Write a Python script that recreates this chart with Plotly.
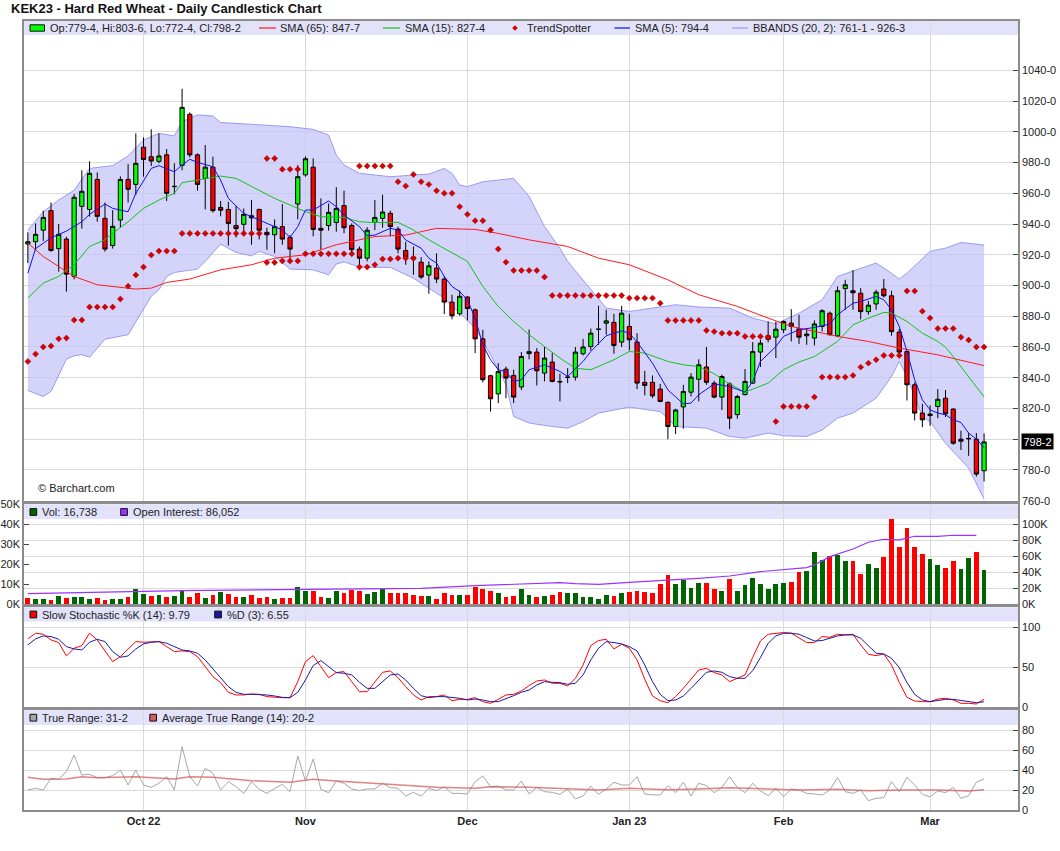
import pandas as pd
import plotly.graph_objects as go

# ---------------- categories ----------------
holidays = ['2022-11-24', '2022-12-26', '2023-01-02', '2023-01-16', '2023-02-20']
dates = [d.strftime('%Y-%m-%d') for d in
         pd.bdate_range('2022-09-12', '2023-03-10', freq='C', holidays=holidays)]
month_dates = ['2022-10-03', '2022-11-01', '2022-12-01', '2023-01-03', '2023-02-01', '2023-03-01']
month_labels = ['Oct 22', 'Nov', 'Dec', 'Jan 23', 'Feb', 'Mar']

# ---------------- price (OHLC) ----------------
opens = [927, 928.5, 936, 948.7, 924, 930.2, 906, 951.5, 949.5, 969,
         943.7, 926, 942.6, 969, 965.8, 990, 983.8, 980.8, 985, 964.3,
         978.2, 1011.4, 985, 969.7, 977, 950.8, 949.5, 939, 939.8, 945.4,
         949.5, 934.6, 933, 938.3, 931.3, 953, 972, 977, 937.2, 939,
         941, 952, 939, 923.7, 917.8, 941, 943.7, 947, 936.7, 922.8,
         918.5, 915.2, 906.8, 911.3, 904.2, 889.2, 881.6, 892.5, 884.2, 865.3,
         841.3, 829.5, 845.6, 841.5, 834, 855.7, 856.7, 843, 850.2, 837.6,
         840.2, 840.4, 855.6, 860.3, 871.4, 875.5, 876, 863.2, 873.4, 863.2,
         837, 837, 832.6, 824, 808.3, 821, 830.6, 839, 847, 836.5,
         827.4, 836, 816, 829, 836.5, 856.7, 865, 866.4, 871.2, 875.5,
         871.8, 867.3, 865.8, 873.4, 882, 867.3, 898, 896.6, 895, 883,
         888, 897.7, 893.3, 869.7, 857, 835.4, 817, 815.4, 821.3, 826.7,
         819.6, 800, 800.5, 800, 779.5]
highs = [934.6, 940.4, 948.7, 954, 940, 931.7, 959.5, 975, 980.8, 973.6,
         954, 949, 971, 979, 999, 996.4, 1001.6, 999, 988.8, 979.5,
         1028, 1012.7, 986, 991.4, 983.8, 955, 954.5, 951.7, 950.2, 955.6,
         950, 937.6, 943, 953, 932.8, 978.4, 984, 982.7, 956.7, 953.4,
         964, 961.7, 940.4, 925.4, 938, 955.6, 959, 948.7, 938.3, 928.5,
         925.4, 918.5, 915.7, 921, 906, 894, 896.8, 893, 885, 871.2,
         842, 849.5, 847.3, 845.2, 856.7, 871.4, 859.3, 860, 856, 842.6,
         846.2, 860, 865.3, 872, 886.8, 884.2, 881.6, 886.8, 881.6, 869,
         844.5, 841.5, 836, 824.6, 819.8, 835.4, 843, 852, 860, 838,
         842, 837, 829, 845.6, 863.2, 864.7, 876.6, 876.6, 877.3, 884.6,
         881, 872, 877.3, 884.6, 883, 899.4, 903.7, 910, 898.3, 890,
         897.2, 904.2, 896.6, 871.8, 857.7, 837, 823, 822, 832.6, 832,
         820.2, 805.5, 804, 804, 803.75]
lows = [914.6, 923, 929, 922, 909, 896, 904, 937, 944.8, 941.5,
        922, 924, 938, 954, 959, 970.8, 977.7, 979.5, 955, 959.3,
        975, 983.4, 961.7, 949.5, 947.4, 945, 926, 931.3, 934, 926.5,
        930, 923.3, 921, 926.5, 914.6, 943, 970.8, 932, 923.3, 935.7,
        935, 934, 921, 910, 915.7, 936, 937.6, 932, 921, 913.5,
        907, 904.2, 894.6, 901.6, 881.4, 878, 880.3, 877.3, 856, 837,
        818, 823.5, 826.7, 823.5, 832, 852, 835, 837.6, 837, 824.6,
        836.5, 838.2, 854.5, 857.7, 861.4, 868, 855.6, 860, 857.7, 832.6,
        828.5, 826.7, 824, 800, 803.3, 806.8, 827.8, 824.6, 835.4, 826.7,
        819, 806.6, 813.3, 828.5, 836, 847, 863, 852.8, 869, 863.6,
        862, 861.4, 861, 870, 867.3, 866.4, 884.2, 884.2, 878, 881,
        884.2, 892.2, 867.3, 854.3, 825.2, 812.2, 807.8, 808.7, 813.7, 814.4,
        796.4, 793, 789.2, 775.7, 772.5]
closes = [928.5, 933.3, 944.3, 922.8, 933.3, 907.4, 957.4, 961.3, 973, 945,
          923.7, 938.5, 969, 962.6, 979.5, 982, 981, 984.3, 960, 964.5,
          1015.9, 985, 965.8, 977, 948.7, 949, 940.4, 937, 946.3, 944,
          936, 933, 938.3, 930.2, 923.7, 970.8, 982.5, 936.5, 936, 947.6,
          950.2, 937.6, 923.3, 917.8, 936, 944.3, 947.8, 938.3, 923.7, 918.5,
          917.2, 905.5, 912.8, 904.2, 889.2, 880.3, 893, 885, 865.3, 838.7,
          826.3, 844, 839.8, 827.4, 853.8, 857, 844.5, 852.8, 837.6, 837.3,
          840.4, 856.7, 860, 869, 871.6, 877, 861, 882, 864.7, 836.5,
          835, 828.2, 824.6, 808.3, 819, 831, 840.4, 848.4, 837, 827.4,
          840.8, 813.7, 827.8, 837.6, 857, 862.5, 867.3, 871.6, 876.6, 873.4,
          866.4, 868.4, 875, 883.6, 868, 896.6, 900.5, 895.3, 883, 887.2,
          895.7, 893.3, 870, 856.7, 835.4, 817, 812.6, 816.3, 826, 816.5,
          797.4, 798.7, 800.3, 777.3, 798.25]

# ---------------- price studies (read at sampled days) ----------------
sma65_idx = [0, 2, 4, 6, 9, 14, 16, 18, 21, 25, 29, 32, 36, 40, 45, 49, 53, 58, 61, 65,
             70, 74, 78, 83, 87, 92, 96, 99, 105, 109, 113, 118, 122, 124]
sma65_val = [927.6, 918.9, 912.4, 905.9, 900.5, 897.7, 898.3, 902, 904.2, 910.2, 913.5, 917.8,
             920, 926.5, 931.9, 932.8, 937.2, 936.5, 933.9, 929.7, 925.4, 917.8, 913.5, 903.7,
             894, 886.4, 878.8, 873.4, 866.9, 863.6, 859.3, 854.9, 850.2, 847.9]
sma15_idx = [0, 2, 4, 6, 8, 10, 11, 13, 15, 17, 19, 20, 22, 25, 27, 30, 32, 34, 36, 38, 41, 43,
             45, 48, 50, 52, 54, 57, 59, 61, 63, 65, 67, 69, 71, 73, 75, 76, 78, 80, 83, 85, 87,
             89, 91, 93, 94, 96, 98, 100, 102, 104, 105, 107, 109, 111, 112, 114, 116, 118, 119,
             120, 122, 124]
sma15_val = [891.8, 901.6, 905.9, 913.5, 925.4, 929.8, 933.9, 941.5, 950.2, 955.6, 960, 966.9,
             968.6, 971.2, 969.7, 962.1, 956.7, 952.4, 948, 944.8, 944.3, 941.5, 940.9, 941.1,
             936.1, 929.7, 924.3, 915.7, 899.4, 886.4, 876.6, 868, 860.3, 852.8, 846.2, 845.2,
             849.5, 851.7, 857.1, 856, 850.6, 848.4, 847.3, 842.6, 836, 830.6, 832.6, 836.5,
             845.2, 850.2, 853.8, 860.3, 863.6, 874.4, 878.8, 882.5, 882, 876.6, 869, 863.6,
             859.9, 853.8, 840.8, 827.5]
sma5_idx = [0, 1, 3, 5, 7, 8, 10, 11, 13, 14, 16, 17, 19, 20, 21, 22, 24, 25, 26, 28, 29, 31, 33,
            34, 35, 36, 37, 39, 40, 41, 43, 44, 45, 47, 48, 49, 50, 51, 52, 53, 54, 55, 56, 57,
            58, 59, 60, 61, 62, 63, 64, 65, 67, 69, 70, 72, 73, 75, 77, 78, 79, 81, 83, 85, 86,
            87, 89, 91, 93, 94, 95, 97, 98, 100, 102, 104, 105, 107, 108, 110, 111, 112, 113,
            114, 115, 116, 117, 118, 119, 120, 121, 122, 123, 124]
sma5_val = [908, 924, 931, 935.4, 941.5, 946.3, 953, 950.2, 948, 960, 976.2, 978, 974, 978.4,
            982.1, 980.1, 977.3, 968.6, 956.7, 946.9, 944.8, 940.4, 936.1, 931.3, 938.3, 949.1,
            949.1, 955, 951.3, 945.9, 938.3, 932.4, 932.8, 937.2, 936.1, 929.6, 927, 924.3,
            917.8, 914.6, 905.9, 899.4, 896, 890.7, 878.8, 861.4, 851.7, 845.2, 844, 837.6,
            838.7, 845.2, 848.4, 844.1, 840.8, 850.6, 857.1, 867.3, 870.5, 869, 863.2, 849.5,
            832.1, 823, 823.5, 828.9, 836, 834.3, 830.6, 837.6, 850.6, 860.3, 866.9, 871.2,
            872.7, 874.9, 881, 888.5, 889.6, 892.9, 890.7, 884.2, 873.4, 857.1, 838.7, 825.6,
            819.1, 817, 815.9, 812.6, 810.9, 804, 800, 794.5]
bb_up_idx = [0, 2, 4, 6, 8, 11, 13, 15, 17, 19, 20, 22, 24, 25, 29, 34, 37, 39, 40, 41, 43, 47,
             52, 54, 55, 56, 57, 59, 63, 65, 67, 69, 70, 73, 75, 78, 83, 84, 87, 91, 94, 97,
             100, 103, 105, 108, 110, 112, 113, 114, 117, 119, 121, 124]
bb_up_val = [936.1, 948, 955.6, 962, 976.2, 978, 984.3, 994.7, 999, 997.3, 1006.6, 1011, 1010.3,
             1006, 1004.9, 1003.3, 1001.6, 997.9, 984.9, 978.4, 973, 970.8, 972.5, 976.2, 973,
             965.4, 964.3, 967.5, 969.7, 958, 938.3, 924.2, 915.7, 897.2, 885.3, 883.1, 886.4,
             887.5, 886, 885.3, 878.8, 875, 882, 890.7, 905.9, 911.3, 914.6, 908, 904.2, 908,
             922.2, 924.3, 928, 926.3]
bb_lo_idx = [0, 2, 3, 5, 6, 7, 8, 10, 13, 14, 16, 17, 18, 19, 21, 22, 23, 25, 27, 29, 30, 32, 34,
             37, 39, 40, 41, 43, 45, 47, 50, 52, 54, 56, 58, 60, 62, 63, 65, 68, 70, 72, 74, 78,
             82, 84, 88, 91, 93, 96, 98, 101, 103, 105, 107, 110, 112, 113, 114, 116, 117, 119,
             122, 124]
bb_lo_val = [831.7, 827.8, 831.1, 852.1, 854.3, 855, 853.4, 865.1, 868, 876.6, 893, 897.2, 905.9,
             908.5, 910.2, 910.7, 915.7, 927, 921.5, 919.3, 922.2, 918.9, 910.7, 910.2, 907, 914,
             915.4, 912, 911.8, 911.8, 904.8, 898.3, 891.8, 882, 872.3, 855, 835.4, 814.8, 810.5,
             808.3, 807.2, 811.5, 817, 820.9, 818, 808.3, 807.2, 801.8, 800.7, 804, 802.2, 801.8,
             806, 813.7, 817, 826.7, 840.8, 850.6, 840.8, 814.8, 811.5, 797.4, 781.2, 761.1]
trendspotter = [850.6, 855.4, 860, 860.6, 865.3, 865.8, 877.5, 877.5, 886, 886,
                886, 886, 891.2, 899.6, 906.8, 912, 919.8, 922.4, 922.4, 922.4,
                933.9, 933.9, 933.9, 933.9, 933.9, 933.9, 933.9, 933.9, 933.9, 933.9,
                933.9, 982.7, 982.7, 975.6, 975.6, 975.6, 920.6, 920.6, 920.6, 920.6,
                920.6, 920.6, 920.6, 977.7, 977.7, 977.7, 977.7, 977.7, 967.5, 964.7,
                972.3, 967.5, 965.8, 961.7, 960, 960, 951.3, 946.3, 942.2, 942.2,
                936.1, 923.7, 915.2, 909.8, 909.8, 909.8, 909.8, 905.5, 893.5, 893.5,
                893.5, 893.5, 893.5, 893.5, 893.5, 893.5, 893.5, 893.5, 891.8, 891.8,
                891.8, 891.8, 888.5, 877.3, 877.3, 877.3, 877.3, 877.3, 870.8, 870,
                869, 869, 869, 866.9, 866.9, 866.9, 866.4, 811.5, 821.3, 821.3,
                821.3, 821.3, 827.4, 840.4, 840.4, 840.4, 840.4, 841.5, 846.9, 849.5,
                851.7, 854.5, 854.5, 854.5, 896.4, 896.4, 883.3, 878.8, 872, 872,
                872, 866.4, 864.5, 860, 860]
ts_extra_idx = [31, 32, 33, 34, 35, 43, 44, 45, 46, 47, 48, 49, 50]
ts_extra_val = [915, 915, 916, 916, 916, 912, 912, 913.5, 917.2, 917.2, 917.8, 917.8, 917.8]

# ---------------- volume / open interest (thousands) ----------------
volume_k = [3.0, 2.5, 2.5, 1.7, 4.0, 3.0, 3.5, 3.5, 2.5, 3.0,
            1.7, 2.5, 2.5, 3.5, 7.5, 5.0, 4.0, 4.5, 3.5, 4.0,
            6.7, 3.5, 5.5, 3.0, 4.5, 6.0, 5.0, 3.5, 3.5, 4.5,
            3.0, 3.5, 2.5, 3.0, 3.0, 8.5, 6.5, 6.5, 3.5, 3.0,
            6.5, 5.5, 7.0, 6.5, 5.0, 6.0, 7.5, 5.5, 5.5, 5.5,
            4.5, 4.0, 4.0, 2.5, 5.5, 4.5, 4.5, 4.5, 8.5, 7.5,
            6.5, 5.5, 3.5, 4.0, 7.5, 4.5, 3.5, 4.0, 4.5, 6.0,
            5.5, 5.5, 3.5, 3.5, 2.5, 4.5, 4.0, 5.5, 6.0, 6.5,
            6.0, 5.5, 10.0, 14.5, 10.0, 12.0, 8.0, 10.5, 10.5, 7.5,
            6.5, 12.5, 6.5, 9.5, 13.0, 10.0, 7.5, 10.0, 10.5, 11.0,
            16.0, 16.5, 26.1, 22.1, 24.1, 24.6, 21.6, 21.6, 15.1, 20.1,
            18.1, 23.6, 42.6, 28.6, 38.1, 28.6, 25.1, 22.6, 19.6, 18.1,
            21.6, 17.6, 23.1, 26.1, 16.738]
volume_dir = ("rggrgrgggr" "rggrggrgrg" "grrgrgrrgr" "rrgrrggrrg" "grrrgggrrr"
              "rrgrrrgrrr" "rgrrggrgrr" "ggggggrgrr" "rrrrggggrr" "grgggggggr"
              "rgggrggrrg" "grrrrrrggr" "rggrg")
oi_idx = [0, 14, 20, 36, 45, 51, 58, 65, 69, 71, 74, 78, 82, 84, 87, 91, 95, 98, 101, 102,
          104, 107, 109, 111, 113, 115, 118, 120, 123]
oi_k = [13, 15.5, 16.7, 18.4, 18.8, 19.7, 23, 25.7, 26.8, 25.5, 24.7, 27.2, 28.9, 30.5, 32.2,
        35.1, 40.6, 43.5, 45.6, 49, 59.4, 69, 77.4, 81.2, 80.3, 84.9, 84.9, 86.2, 86.05]

# ---------------- slow stochastic ----------------
stoch_k = [85.4, 92.5, 91.2, 84.1, 80.8, 64, 73.6, 77, 92.5, 84.1,
           70.3, 56.9, 63.2, 72.8, 82, 81.2, 81.2, 82, 75.7, 69.5,
           70.3, 69.5, 63.2, 50.6, 38.1, 30.5, 18.4, 15.1, 15.1, 16.3,
           15.9, 13, 12.1, 11.7, 11.7, 31.8, 56.9, 64.4, 50.6, 36.8,
           43.1, 44.4, 31.8, 19.2, 19.2, 31.8, 43.5, 45.2, 36.8, 25.5,
           15.1, 8.8, 13, 13, 15.1, 7.9, 9.6, 9.6, 11.7, 6.7,
           4.6, 9.6, 15.1, 15.9, 20.1, 26.8, 32.6, 33.9, 29.7, 29.7,
           26.4, 36, 52.7, 77, 83.3, 84.9, 72.8, 78.7, 73.6, 59,
           34.7, 13.8, 7.9, 5.4, 13, 23.4, 34.7, 46.4, 48.5, 43.1,
           40.2, 31.8, 36, 40.2, 62.3, 82.8, 91.2, 92.5, 93.3, 92.5,
           87, 80.8, 80.8, 88.3, 87.4, 91.2, 90.4, 91.2, 77.8, 66.1,
           64.4, 66.5, 52.7, 31, 12.1, 7.5, 6.7, 6.7, 10, 10.9,
           8.8, 4.6, 4.6, 3.8, 9.79]
stoch_d = [77.8, 85.4, 89.1, 88.3, 84.9, 75.7, 72.8, 71.5, 81.2, 84.9,
           82, 69.5, 62.3, 64, 72.8, 79.1, 81.2, 82, 79.9, 75.7,
           71.5, 70.3, 67.4, 59, 47.7, 36, 25.5, 18.4, 15.9, 15.9,
           15.9, 15.1, 13.8, 12.1, 11.7, 18.4, 33.9, 51.9, 58.2, 50.6,
           43.1, 42.3, 40.2, 31, 23.4, 23.4, 31.8, 40.2, 41.4, 33.9,
           23.4, 14.2, 11.7, 13, 13, 12.1, 10.9, 8.8, 10, 8.8,
           6.7, 6.7, 10, 14.2, 18.4, 21.3, 27.6, 31.8, 31, 30.5,
           28.5, 29.7, 40.2, 59, 73.6, 82, 80.8, 79.1, 75.7, 70.3,
           52.7, 31.8, 15.9, 7.9, 8.8, 13.8, 23.4, 33.9, 43.5, 45.2,
           43.5, 38.1, 36, 36, 45.6, 61.9, 79.9, 89.1, 92.5, 92.5,
           91.2, 87, 82.8, 83.3, 86.2, 89.1, 90.4, 90.4, 86.2, 76.6,
           67.4, 66.5, 61.1, 49.4, 30.5, 15.9, 8.8, 6.7, 7.9, 9.6,
           9.6, 7.9, 6.7, 5.4, 6.55]

# ---------------- true range ----------------
true_range = [20.1, 21.7, 20.1, 31.8, 30.8, 38.5, 55.2, 35.1, 35.8, 32.4,
              32.4, 34.4, 40.1, 25.1, 40.1, 25.1, 22.7, 26.8, 33.4, 20.1,
              63.5, 33.4, 24.1, 41.8, 36.8, 20.1, 28.4, 23.4, 16.7, 28.4,
              20.7, 16.7, 21.7, 25.8, 18.4, 54.2, 29.1, 51.2, 20.7, 17.4,
              29.1, 26.8, 21.1, 19.4, 21.1, 21.1, 26.8, 22.4, 21.7, 14,
              17.7, 14, 21.7, 19.4, 23.4, 16.7, 16.7, 16.1, 28.4, 34.1,
              23.4, 24.1, 20.1, 20.1, 29.1, 16.1, 22.7, 18.4, 17.7, 15.7,
              21.1, 11, 14, 24.1, 15.7, 21.1, 27.8, 25.1, 25.1, 33.4,
              16.1, 15.1, 15.1, 24.4, 17.4, 27.8, 14, 26.8, 24.4, 17.4,
              22.7, 33.4, 22.7, 17.4, 26.8, 19.1, 14.4, 21.7, 13.4, 21.1,
              20.1, 16.7, 16.1, 15.1, 20.1, 32.8, 18.4, 16.7, 20.1, 9.4,
              11.7, 12.4, 28.4, 18.4, 32.8, 25.1, 15.7, 13.4, 19.1, 17.4,
              22.7, 11.7, 14.4, 27.8, 31.25]
atr_idx = [0, 2, 5, 7, 9, 14, 19, 21, 24, 29, 34, 37, 40, 45, 49, 53, 58, 60, 65, 69, 74, 78,
           83, 87, 91, 96, 100, 105, 109, 113, 118, 122, 124]
atr_val = [32.8, 30.8, 31.1, 33.4, 32.4, 33.4, 31.1, 33.4, 32.8, 29.4, 27.8, 30.8, 29.1, 26.8,
           25.1, 22.7, 21.7, 23.4, 22.7, 21.7, 20.1, 21.7, 20.4, 21.1, 22.4, 21.1, 20.1, 20.7,
           19.4, 20.1, 20.1, 19.1, 20.25]

price_ticks = [760, 780, 800, 820, 840, 860, 880, 900, 920, 940, 960, 980, 1000, 1020, 1040]
price_tick_text = ['760-0', '780-0', '', '820-0', '840-0', '860-0', '880-0', '900-0', '920-0',
                   '940-0', '960-0', '980-0', '1000-0', '1020-0', '1040-0']

# ---------------- geometry helpers (window pixels) ----------------
W, H = 1060, 851
L, R, T, B = 24, 1018, 21, 810
PRICE_RANGE = [759.8, 1072.1]


def px(x):
    return (x - L) / (R - L)


def py(y):
    return (B - y) / (B - T)


GRID = '#dadada'
BORDER = '#8c8c8c'
FONT = 'Liberation Sans, Arial, sans-serif'
TS_RED = '#d80000'


def dx(idx):
    return [dates[i] for i in idx]


fig = go.Figure()

# Bollinger band fill (base price axis y)
fig.add_trace(go.Scatter(x=dx(bb_up_idx) + dx(bb_lo_idx[::-1]), y=bb_up_val + bb_lo_val[::-1],
                         fill='toself', fillcolor='rgba(196,196,250,0.72)', mode='lines',
                         line=dict(width=0), hoverinfo='skip', xaxis='x', yaxis='y'))
for bi, bv in ((bb_up_idx, bb_up_val), (bb_lo_idx, bb_lo_val)):
    fig.add_trace(go.Scatter(x=dx(bi), y=bv, mode='lines', line=dict(color='#9a9af4', width=1),
                             hoverinfo='skip', xaxis='x', yaxis='y'))

# candles on an overlaying price axis so they sit above the band
fig.add_trace(go.Candlestick(x=dates, open=opens, high=highs, low=lows, close=closes,
                             increasing=dict(line=dict(color='black', width=1), fillcolor='#00ff00'),
                             decreasing=dict(line=dict(color='black', width=1), fillcolor='#ff0000'),
                             whiskerwidth=0, xaxis='x', yaxis='y6'))

# studies on a further overlaying axis (above candles)
fig.add_trace(go.Scatter(x=dx(sma65_idx), y=sma65_val, mode='lines',
                         line=dict(color='#ff1a1a', width=1), xaxis='x', yaxis='y7'))
fig.add_trace(go.Scatter(x=dx(sma15_idx), y=sma15_val, mode='lines',
                         line=dict(color='#16c016', width=1), xaxis='x', yaxis='y7'))
fig.add_trace(go.Scatter(x=dx(sma5_idx), y=sma5_val, mode='lines',
                         line=dict(color='#1010f0', width=1), xaxis='x', yaxis='y7'))
fig.add_trace(go.Scatter(x=dates, y=trendspotter, mode='markers',
                         marker=dict(symbol='diamond', size=4.6, color=TS_RED,
                                     line=dict(color='#990000', width=0.5)),
                         xaxis='x', yaxis='y7'))
fig.add_trace(go.Scatter(x=dx(ts_extra_idx), y=ts_extra_val, mode='markers',
                         marker=dict(symbol='diamond', size=4.6, color=TS_RED,
                                     line=dict(color='#990000', width=0.5)),
                         xaxis='x', yaxis='y7'))

# volume + open interest
fig.add_trace(go.Bar(x=dates, y=volume_k,
                     marker=dict(color=['#006400' if c == 'g' else '#ff0000' for c in volume_dir],
                                 line=dict(width=0)),
                     width=0.62, xaxis='x2', yaxis='y2'))
fig.add_trace(go.Scatter(x=dx(oi_idx), y=oi_k, mode='lines',
                         line=dict(color='#9933ff', width=1.2), xaxis='x2', yaxis='y3'))

# stochastic
fig.add_trace(go.Scatter(x=dates, y=stoch_k, mode='lines', line=dict(color='#ff0000', width=1),
                         xaxis='x3', yaxis='y4'))
fig.add_trace(go.Scatter(x=dates, y=stoch_d, mode='lines', line=dict(color='#1a1aa0', width=1),
                         xaxis='x3', yaxis='y4'))

# true range
fig.add_trace(go.Scatter(x=dates, y=true_range, mode='lines', line=dict(color='#a6a6a6', width=1),
                         xaxis='x4', yaxis='y5'))
fig.add_trace(go.Scatter(x=dx(atr_idx), y=atr_val, mode='lines',
                         line=dict(color='rgba(214,90,90,0.75)', width=1.5), xaxis='x4', yaxis='y5'))


def xaxis(anchor, labels=False):
    d = dict(domain=[0, 1], anchor=anchor, type='category', categoryorder='array',
             categoryarray=dates, range=[-0.5, 128.4], tickvals=month_dates, ticktext=month_labels,
             showticklabels=labels, showgrid=True, gridcolor=GRID, gridwidth=1,
             showline=True, mirror=True, linecolor=BORDER, linewidth=1.5, ticks='',
             fixedrange=True, automargin=False, rangeslider=dict(visible=False))
    if labels:
        d['tickfont'] = dict(family=FONT, size=11, color='#222', weight='bold')
    return d


def yaxis(domain, rng, vals, text, side='right', grid=True, **kw):
    d = dict(domain=domain, range=rng, side=side, tickvals=vals, ticktext=text,
             showgrid=grid, gridcolor=GRID, zeroline=False, showline=True, mirror=True,
             linecolor=BORDER, linewidth=1.5, ticks='inside', ticklen=5, tickcolor='#444',
             tickfont=dict(family=FONT, size=11, color='#222'), fixedrange=True,
             automargin=False)
    d.update(kw)
    return d


def hidden_overlay(base):
    return dict(overlaying=base, range=PRICE_RANGE, visible=False, fixedrange=True,
                automargin=False, showgrid=False, zeroline=False, side='right', anchor='x')


layout = dict(
    width=W, height=H,
    margin=dict(l=L, r=W - R, t=T, b=H - B, autoexpand=False),
    paper_bgcolor='white', plot_bgcolor='white', showlegend=False,
    font=dict(family=FONT, size=11, color='#222'), boxgap=0.22, bargap=0,
    xaxis=xaxis('y'), xaxis2=xaxis('y2'), xaxis3=xaxis('y4'), xaxis4=xaxis('y5', True),
    yaxis=yaxis([py(501), 1], PRICE_RANGE, price_ticks, price_tick_text, anchor='x'),
    yaxis2=yaxis([py(604), py(504.3)], [0, 50], [0, 10, 20, 30, 40, 50],
                 ['0K', '10K', '20K', '30K', '40K', '50K'], side='left', grid=False, anchor='x2'),
    yaxis3=yaxis([py(604), py(504.3)], [0, 125], [0, 20, 40, 60, 80, 100],
                 ['0K', '20K', '40K', '60K', '80K', '100K'], overlaying='y2', anchor='x2'),
    yaxis4=yaxis([py(707), py(607.3)], [0, 125], [0, 50, 100], ['0', '50', '100'], anchor='x3'),
    yaxis5=yaxis([0, py(710.3)], [0, 100], [0, 20, 40, 60, 80], ['0', '20', '40', '60', '80'],
                 anchor='x4'),
    yaxis6=hidden_overlay('y'),
    yaxis7=hidden_overlay('y'),
)
fig.update_layout(**layout)

shapes = []
annotations = []
BAND = '#e2e2fa'


def band(y0, y1):
    shapes.append(dict(type='rect', xref='paper', yref='paper', x0=0, x1=1, y0=py(y1), y1=py(y0),
                       fillcolor=BAND, line=dict(width=0), layer='below'))


def label(x, y, text, size=11, color='#222', bold=False):
    annotations.append(dict(xref='paper', yref='paper', x=px(x), y=py(y), text=text,
                            showarrow=False, xanchor='left', yanchor='middle',
                            font=dict(family=FONT, size=size, color=color,
                                      weight='bold' if bold else 'normal')))


def square(x0, x1, yc, color, h=3.4):
    shapes.append(dict(type='rect', xref='paper', yref='paper', x0=px(x0), x1=px(x1),
                       y0=py(yc + h), y1=py(yc - h), fillcolor=color,
                       line=dict(color='#111', width=1)))


def hline(x0, x1, yc, color):
    shapes.append(dict(type='line', xref='paper', yref='paper', x0=px(x0), x1=px(x1),
                       y0=py(yc), y1=py(yc), line=dict(color=color, width=1.2)))


band(20.7, 35)
band(504.3, 519)
band(607.3, 621.5)
band(710.3, 725)

# price legend
yc = 28
square(30, 44.5, yc, '#00ff00', h=3.2)
label(48, yc, 'Op:779-4, Hi:803-6, Lo:772-4, Cl:798-2')
hline(259, 276, yc, '#ff1a1a')
label(278, yc, 'SMA (65): 847-7')
hline(383, 400, yc, '#16c016')
label(402.5, yc, 'SMA (15): 827-4')
shapes.append(dict(type='path', xref='paper', yref='paper',
                   path='M %f,%f L %f,%f L %f,%f L %f,%f Z' % (
                       px(515), py(yc - 2.8), px(517.8), py(yc), px(515), py(yc + 2.8),
                       px(512.2), py(yc)),
                   fillcolor=TS_RED, line=dict(width=0)))
label(524.5, yc, 'TrendSpotter')
hline(614.5, 630, yc, '#1010f0')
label(633, yc, 'SMA (5): 794-4')
hline(732, 748, yc, '#9a9af4')
label(751, yc, 'BBANDS (20, 2): 761-1 - 926-3')

# volume legend
yc = 512
square(30, 36.7, yc, '#006400')
label(40.2, yc, 'Vol: 16,738')
square(120.7, 127.4, yc, '#9933ff')
label(130.8, yc, 'Open Interest: 86,052')

# stochastic legend
yc = 614.5
square(30, 36.7, yc, '#ff0000')
label(40.2, yc, 'Slow Stochastic %K (14): 9.79')
square(214.7, 221.4, yc, '#1a1aa0')
label(224.8, yc, '%D (3): 6.55')

# true range legend
yc = 717.7
square(30, 36.7, yc, '#a6a6a6')
label(40.2, yc, 'True Range: 31-2')
square(149.8, 156.5, yc, '#d06060')
label(160.3, yc, 'Average True Range (14): 20-2')

# title and credit
label(9, 8, 'KEK23 - Hard Red Wheat - Daily Candlestick Chart', size=13, color='#111', bold=True)
label(35.5, 488, '© Barchart.com', size=11, color='#222')

# last price marker
annotations.append(dict(xref='paper', yref='y', x=px(1020.5), y=closes[-1], text='798-2',
                        showarrow=False, xanchor='left', yanchor='middle', bgcolor='black',
                        borderpad=1.5, font=dict(family=FONT, size=11, color='white')))

fig.update_layout(shapes=shapes, annotations=annotations)
# place the figure at the window's top-left corner (no default 8px page margin)
fig.write_html('out.html', config={'displayModeBar': False},
               post_script="document.body.style.margin='0';document.body.style.overflow='hidden';")
